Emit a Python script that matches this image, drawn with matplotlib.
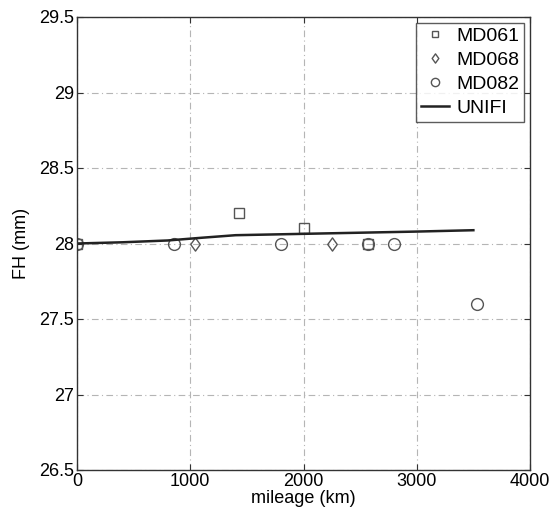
import numpy as np
import matplotlib.pyplot as plt
from matplotlib.path import Path

plt.rcParams['font.family'] = ['Liberation Sans', 'DejaVu Sans']

# measured front height (FH) per vehicle vs. mileage
md061_km = [0, 1430, 2000, 2570]
md061_fh = [28.0, 28.2, 28.1, 28.0]

md068_km = [1040, 2250]
md068_fh = [28.0, 28.0]

md082_km = [0, 855, 1800, 2570, 2800, 3530]
md082_fh = [28.0, 28.0, 28.0, 28.0, 28.0, 27.6]

# UNIFI wear model prediction
unifi_km = [0, 400, 800, 1100, 1400, 2000, 2600, 3000, 3500]
unifi_fh = [28.0, 28.008, 28.02, 28.038, 28.055, 28.064, 28.073, 28.079, 28.088]

# matlab-like diamond (a bit taller than wide)
diamond = Path([(0, 1), (0.72, 0), (0, -1), (-0.72, 0), (0, 1)],
               [Path.MOVETO, Path.LINETO, Path.LINETO, Path.LINETO, Path.CLOSEPOLY])

fig = plt.figure(figsize=(5.54, 5.17), dpi=100)
ax = fig.add_axes([77 / 554, 1 - 470 / 517, 453 / 554, 453 / 517])

mk = dict(linestyle='none', markerfacecolor='none', markeredgecolor='#555555',
          markeredgewidth=1.0)
ax.plot(md061_km, md061_fh, marker='s', markersize=6.5, label='MD061', **mk)
ax.plot(md068_km, md068_fh, marker=diamond, markersize=9.5, label='MD068', **mk)
ax.plot(md082_km, md082_fh, marker='o', markersize=8.5, label='MD082', **mk)
ax.plot(unifi_km, unifi_fh, color='#222222', linewidth=1.8, label='UNIFI')

ax.set_xlim(0, 4000)
ax.set_ylim(26.5, 29.5)
ax.set_xticks([0, 1000, 2000, 3000, 4000])
ax.set_yticks([26.5, 27, 27.5, 28, 28.5, 29, 29.5])
ax.set_yticklabels(['26.5', '27', '27.5', '28', '28.5', '29', '29.5'])

ax.grid(True, color='#b5b5b5', linestyle=(0, (6, 3, 1, 3)), linewidth=0.8)
ax.tick_params(direction='in', top=True, right=True, length=4, labelsize=13,
               color='#333333', pad=2)
for s in ax.spines.values():
    s.set_linewidth(1.0)
    s.set_color('#333333')

ax.set_xlabel('mileage (km)', fontsize=13, labelpad=0)
ax.set_ylabel('FH (mm)', fontsize=13, labelpad=7)

leg = ax.legend(loc='upper right', fontsize=14, frameon=True, fancybox=False,
                edgecolor='#333333', borderpad=0.25, labelspacing=0.32,
                handlelength=1.4, handletextpad=0.4, borderaxespad=0.3,
                markerscale=0.7)
leg.get_frame().set_linewidth(1.0)

fig.savefig('out.png', dpi=100)
